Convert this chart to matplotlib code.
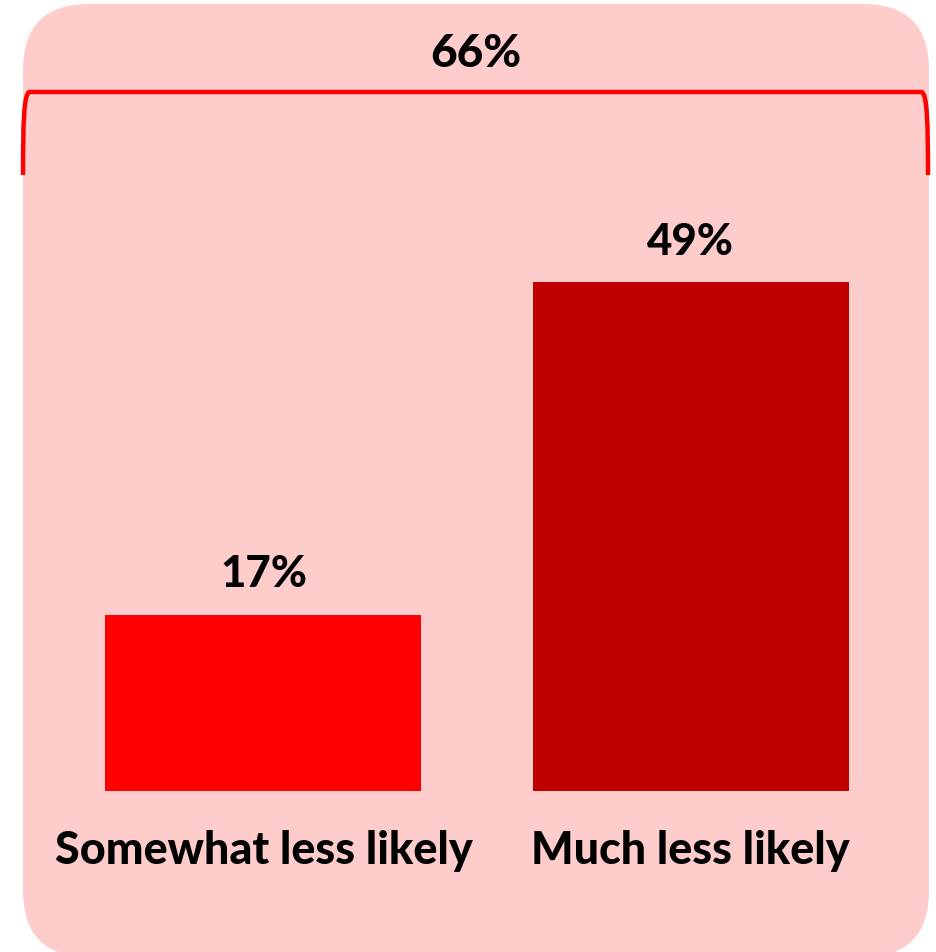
import matplotlib
matplotlib.use("Agg")
import matplotlib.pyplot as plt
from matplotlib.patches import FancyBboxPatch, PathPatch
from matplotlib.path import Path

categories = ["Somewhat less likely", "Much less likely"]
values = [17, 49]
total_label = "66%"
bar_colors = ["#FF0000", "#C00000"]

W, H = 936, 952
fig = plt.figure(figsize=(W / 100, H / 100), dpi=100)
fig.patch.set_facecolor("white")

FONT = "Lato"
WEIGHT = "black"


def fx(x):
    return x / W


def fy(y):
    return 1 - y / H


# rounded background panel (figure pixel coordinates)
top, bottom, left, right = 4, 957, 23, 929
panel = FancyBboxPatch((fx(left), fy(bottom)), (right - left) / W, (bottom - top) / H,
                       boxstyle="round,pad=0,rounding_size=%f" % (66 / W),
                       transform=fig.transFigure, facecolor="#FFCCCC",
                       edgecolor="none", zorder=-5, mutation_aspect=W / H)
fig.patches.append(panel)

ax = fig.add_axes([0, 0, 1, 1], zorder=1)
ax.set_facecolor("none")
spacing = 427.0
unit = 10.38
ax.set_xlim(-263.5 / spacing, (W - 263.5) / spacing)
ax.set_ylim(-(H - 791) / unit, 791 / unit)
ax.axis("off")

xs = list(range(len(categories)))
ax.bar(xs, values, width=316 / spacing, color=bar_colors, zorder=2)

for x, v in zip(xs, values):
    ax.annotate(f"{v}%", (x, v), xytext=(0, 29), textcoords="offset points",
                ha="center", va="center", fontsize=31.5, fontweight=WEIGHT,
                family=FONT, color="black")

for x, c in zip(xs, categories):
    ax.annotate(c, (x, 0), xytext=(0, -43), textcoords="offset points",
                ha="center", va="center", fontsize=32.3, fontweight=WEIGHT,
                family=FONT, color="black")

# bracket spanning both bars
verts = [(fx(23), fy(175)), (fx(23), fy(120)), (fx(24), fy(96)), (fx(29), fy(92)),
         (fx(922), fy(92)), (fx(927), fy(96)), (fx(928), fy(120)), (fx(928), fy(175))]
codes = [Path.MOVETO, Path.CURVE4, Path.CURVE4, Path.CURVE4,
         Path.LINETO, Path.CURVE4, Path.CURVE4, Path.CURVE4]
bracket = PathPatch(Path(verts, codes), transform=fig.transFigure, facecolor="none",
                    edgecolor="#FF0000", linewidth=3.2, capstyle="butt",
                    joinstyle="round", zorder=3)
fig.patches.append(bracket)

fig.text(fx(476), fy(54), total_label, ha="center", va="center", fontsize=33,
         fontweight=WEIGHT, family=FONT, color="black", zorder=4)

fig.savefig("out.png", dpi=100)
